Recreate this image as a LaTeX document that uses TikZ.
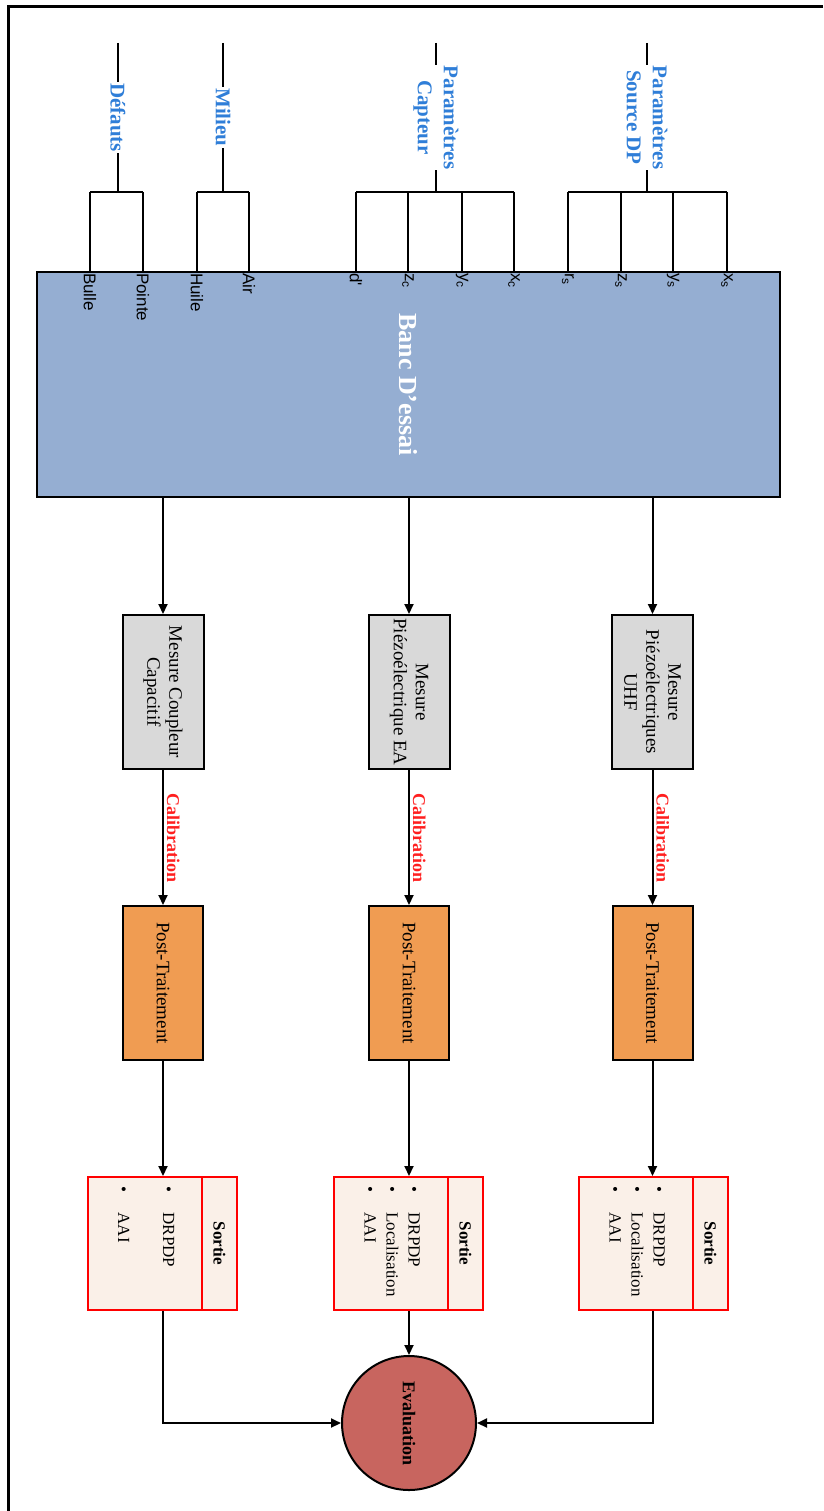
\documentclass[tikz,border=0pt]{standalone}
\usepackage{fontspec}
\setmainfont{Liberation Serif}
\newfontfamily\portfont{Liberation Sans}
\usetikzlibrary{arrows.meta}

\definecolor{bancblue}{HTML}{95AED2}
\definecolor{mesuregray}{HTML}{D9D9D9}
\definecolor{postorange}{HTML}{F09C52}
\definecolor{sortiefill}{HTML}{FAF0E8}
\definecolor{evalred}{HTML}{C8655F}
\definecolor{paramblue}{HTML}{2F7ED8}
\definecolor{calibred}{HTML}{FF1F1F}

\begin{document}
\begin{tikzpicture}[
  x = 1pt,
  y = -1pt,
  box/.style = {
    shape = rectangle,
    draw = black,
    line width = 2pt,
    rotate = -90,
    inner sep = 0pt,
    align = center,
  },
  banc/.style = {
    box,
    fill = bancblue,
    minimum width = 225pt,
    minimum height = 743pt,
    text = white,
    font = \fontsize{26}{30}\selectfont\bfseries,
  },
  mesure/.style = {
    box,
    fill = mesuregray,
    minimum width = 154pt,
    minimum height = 81pt,
    font = \fontsize{19}{22}\selectfont,
  },
  post/.style = {
    box,
    fill = postorange,
    minimum width = 154pt,
    minimum height = 80pt,
    font = \fontsize{19}{22}\selectfont,
  },
  sortielist/.style = {
    box,
    draw = red,
    fill = sortiefill,
    minimum width = 133pt,
    minimum height = 114pt,
    font = \fontsize{17}{22}\selectfont,
  },
  sortiecol/.style = {
    box,
    draw = red,
    fill = sortiefill,
    minimum width = 133pt,
    minimum height = 35pt,
    font = \fontsize{17}{20}\selectfont\bfseries,
  },
  evaluation/.style = {
    shape = circle,
    draw = black,
    line width = 2pt,
    fill = evalred,
    minimum size = 134pt,
    inner sep = 0pt,
    rotate = -90,
    font = \fontsize{18}{20}\selectfont\bfseries,
  },
  grouplabel/.style = {
    rotate = -90,
    fill = white,
    inner sep = 1pt,
    align = center,
    text = paramblue,
    font = \fontsize{21}{26}\selectfont\bfseries,
  },
  portlabel/.style = {
    rotate = -90,
    anchor = west,
    inner sep = 2pt,
    font = \portfont\fontsize{17}{20}\selectfont,
  },
  calib/.style = {
    rotate = -90,
    anchor = south,
    inner sep = 3pt,
    text = calibred,
    font = \fontsize{18}{20}\selectfont\bfseries,
  },
  link/.style = { line width = 2pt },
  arrow/.style = { line width = 2pt, -{Triangle[length = 10pt, width = 9pt]} },
]
  \useasboundingbox (0, 0) rectangle (823, 1511);
  \draw[line width = 3pt] (823, 7) -- (8, 7) -- (8, 1511);

  \node[banc] (banc) at (408.5, 384.5) {Banc D'essai};

  \foreach \px/\txt [count = \i] in {90/Bulle, 143/Pointe, 197/Huile, 249/Air,
      356/{d'}, 408/{z\textsubscript{c}}, 462/{y\textsubscript{c}}, 514/{x\textsubscript{c}},
      568/{r\textsubscript{s}}, 621/{z\textsubscript{s}}, 673/{y\textsubscript{s}}, 727/{x\textsubscript{s}}} {
    \coordinate (p\i) at (\px, 192);
    \draw[link] (p\i) -- (p\i |- banc.west);
    \node[portlabel] (lbl\i) at (p\i |- banc.west) {\txt};
  }
  \draw[link] (p1) -- (p2);
  \draw[link] (p3) -- (p4);
  \draw[link] (p5) -- (p8);
  \draw[link] (p9) -- (p12);

  \coordinate (g1) at (118, 43);
  \coordinate (g2) at (223, 43);
  \coordinate (g3) at (436, 43);
  \coordinate (g4) at (647, 43);
  \draw[link] (g1) -- (g1 |- p1) node[midway, grouplabel] (defauts) {Défauts};
  \draw[link] (g2) -- (g2 |- p1) node[midway, grouplabel] (milieu) {Milieu};
  \draw[link] (g3) -- (g3 |- p1) node[midway, grouplabel] (capteur) {Paramètres\\Capteur};
  \draw[link] (g4) -- (g4 |- p1) node[midway, grouplabel] (source) {Paramètres\\Source DP};

  \node[mesure] (mes1) at (163, 692) {Mesure Coupleur\\Capacitif};
  \node[mesure] (mes2) at (409, 692) {Mesure\\Piézoélectrique EA};
  \node[mesure] (mes3) at (652.5, 692) {Mesure\\Piézoélectriques\\UHF};

  \node[post] (post1) at (163, 983) {Post-Traitement};
  \node[post] (post2) at (409, 983) {Post-Traitement};
  \node[post] (post3) at (652.5, 983) {Post-Traitement};

  \node[sortielist] (sl1) at (145, 1243.5) {\begin{tabular}{@{}l@{\hspace{20pt}}p{88pt}@{}}
    \textbullet & DRPDP\\[23pt] \textbullet & AAI\end{tabular}};
  \node[sortiecol] (sc1) at (219.5, 1243.5) {Sortie};
  \node[sortielist] (sl2) at (391, 1243.5) {\begin{tabular}{@{}l@{\hspace{20pt}}p{88pt}@{}}
    \textbullet & DRPDP\\ \textbullet & Localisation\\ \textbullet & AAI\end{tabular}};
  \node[sortiecol] (sc2) at (465.5, 1243.5) {Sortie};
  \node[sortielist] (sl3) at (636, 1243.5) {\begin{tabular}{@{}l@{\hspace{20pt}}p{88pt}@{}}
    \textbullet & DRPDP\\ \textbullet & Localisation\\ \textbullet & AAI\end{tabular}};
  \node[sortiecol] (sc3) at (710.5, 1243.5) {Sortie};

  \node[evaluation] (eval) at (409, 1423) {Evaluation};

  \foreach \i in {1, 2, 3} {
    \draw[arrow] (banc.east -| mes\i) -- (mes\i.west);
    \draw[arrow] (mes\i.east) -- (post\i.west) node[midway, calib] (cal\i) {Calibration};
    \draw[arrow] (post\i.east) -- (post\i |- sl\i.west);
  }
  \draw[arrow] (post1 |- sl1.east) |- (eval.south);
  \draw[arrow] (post2 |- sl2.east) -- (eval.west);
  \draw[arrow] (post3 |- sl3.east) |- (eval.north);
\end{tikzpicture}
\end{document}
